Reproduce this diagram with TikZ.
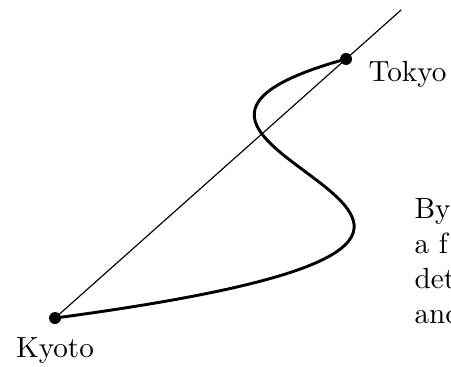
\documentclass[tikz,border=0pt]{standalone}
\usepackage{tikz}
\usetikzlibrary{positioning,calc}

\begin{document}
\begin{tikzpicture}[
  city/.style={circle,fill=black,inner sep=0pt,minimum size=4.1pt},
  cityname/.style={font=\normalsize},
  route/.style={line width=1pt},
  ray/.style={line width=0.4pt}
]
\useasboundingbox (0,0) rectangle (5.434,4.410);
\node[city] (kyoto) at (0.663,0.578) {};
\node[city] (tokyo) at (4.169,3.699) {};
\coordinate (far) at ($(kyoto)!1.19!(tokyo)$);
\node[cityname,below=1pt of kyoto] (kyotoname) {Kyoto};
\node[cityname,right=2pt of tokyo,yshift=-5.3pt] (tokyoname) {Tokyo};
\draw[ray] (kyoto.center) -- (far);
\draw[route] (kyoto.center) .. controls +(8.012,1.073) and +(-3.928,-1.085) .. (tokyo.center);
\node[anchor=north west,inner sep=0pt,align=left] (note) at (4.988,2.024) {By\\a f\\det\\and};
\end{tikzpicture}
\end{document}
